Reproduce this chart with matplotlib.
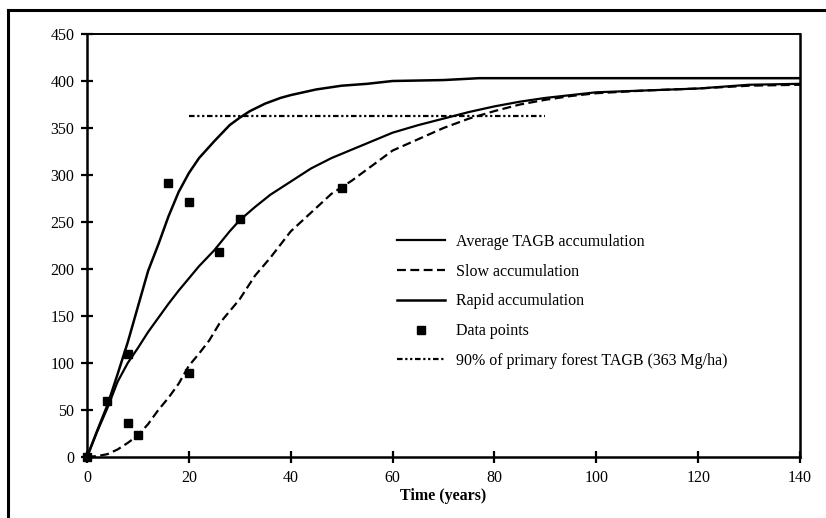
import matplotlib
matplotlib.use("Agg")
import matplotlib.pyplot as plt
from matplotlib.lines import Line2D

# TAGB accumulation curves (Mg/ha) vs time (years)
rapid_t = [0, 2, 4, 6, 8, 10, 12, 14, 16, 18, 20, 22, 25, 28, 30, 32, 35, 38, 40,
           45, 50, 55, 60, 70, 77, 80, 100, 120, 140]
rapid_v = [0, 28, 55, 88, 122, 160, 198, 226, 256, 282, 302, 318, 336, 353, 361, 368,
           376, 382, 385, 391, 395, 397, 400, 401, 403, 403, 403, 403, 403]

avg_t = [0, 2, 4, 6, 8, 10, 12, 14, 16, 18, 20, 22, 25, 28, 30, 33, 36, 40, 44, 48,
         52, 56, 60, 65, 70, 75, 80, 85, 90, 95, 100, 110, 120, 130, 140]
avg_v = [0, 27, 52, 80, 100, 116, 133, 148, 163, 177, 190, 203, 220, 240, 252, 266,
         279, 293, 307, 318, 327, 336, 345, 353, 360, 367, 373, 378, 382, 385, 388,
         390, 392, 396, 397]

slow_t = [0, 2, 4, 6, 8, 10, 12, 14, 16, 18, 20, 22, 24, 26, 28, 30, 33, 36, 40, 44,
          48, 52, 56, 60, 65, 70, 75, 80, 85, 90, 95, 100, 110, 120, 130, 140]
slow_v = [0, 1, 3, 8, 15, 23, 35, 50, 63, 78, 97, 110, 124, 142, 155, 168, 193, 212,
          240, 260, 280, 294, 310, 326, 338, 350, 360, 368, 375, 380, 384, 387, 390,
          392, 395, 396]

# field data points
pts_t = [0, 4, 8, 8, 10, 16, 20, 20, 26, 30, 50]
pts_v = [0, 60, 110, 36, 23, 292, 271, 89, 218, 253, 286]

# 90% of primary forest TAGB
ref_t = [20, 90]
ref_v = [363, 363]

x_ticks = [0, 20, 40, 60, 80, 100, 120, 140]
y_ticks = [0, 50, 100, 150, 200, 250, 300, 350, 400, 450]

plt.rcParams['font.family'] = ['Liberation Serif', 'DejaVu Serif']
plt.rcParams['font.size'] = 11.5

fig = plt.figure(figsize=(8.26, 5.18), dpi=100)
ax = fig.add_axes([87 / 826, 1 - 457 / 518, 713 / 826, 423 / 518])

# outer frame (cropped on right and bottom)
fig.add_artist(Line2D([8 / 826, 1], [1 - 10 / 518] * 2, color='black', lw=2.2,
                      transform=fig.transFigure))
fig.add_artist(Line2D([8 / 826] * 2, [0, 1 - 10 / 518], color='black', lw=2.2,
                      transform=fig.transFigure))

ax.plot(avg_t, avg_v, color='black', lw=1.6, label='Average TAGB accumulation')
ax.plot(slow_t, slow_v, color='black', lw=1.6, linestyle=(0, (4, 2)),
        label='Slow accumulation')
ax.plot(rapid_t, rapid_v, color='black', lw=1.8, label='Rapid accumulation')
ax.plot(pts_t, pts_v, linestyle='none', marker='s', markersize=5.5, color='black',
        label='Data points', clip_on=False)
ax.plot(ref_t, ref_v, color='black', lw=1.6,
        linestyle=(0, (2.5, 1.2, 1, 1.2, 1, 1.2)),
        label='90% of primary forest TAGB (363 Mg/ha)')

ax.set_xlim(0, 140)
ax.set_ylim(0, 450)
ax.set_xticks(x_ticks)
ax.set_yticks(y_ticks)
ax.tick_params(direction='inout', length=8, width=1.6, pad=5, labelsize=11.5)
for s in ax.spines.values():
    s.set_linewidth(1.8)
ax.spines['top'].set_linewidth(1.4)

ax.set_xlabel('Time (years)', fontweight='bold', fontsize=11.5, labelpad=2)

ax.legend(loc='upper left', bbox_to_anchor=(397 / 826, 1 - 234 / 518),
          bbox_transform=fig.transFigure, frameon=False, handlelength=3.0,
          handletextpad=0.7, labelspacing=0.86, fontsize=11.5,
          borderaxespad=0, borderpad=0)

fig.savefig('out.png', dpi=100)
